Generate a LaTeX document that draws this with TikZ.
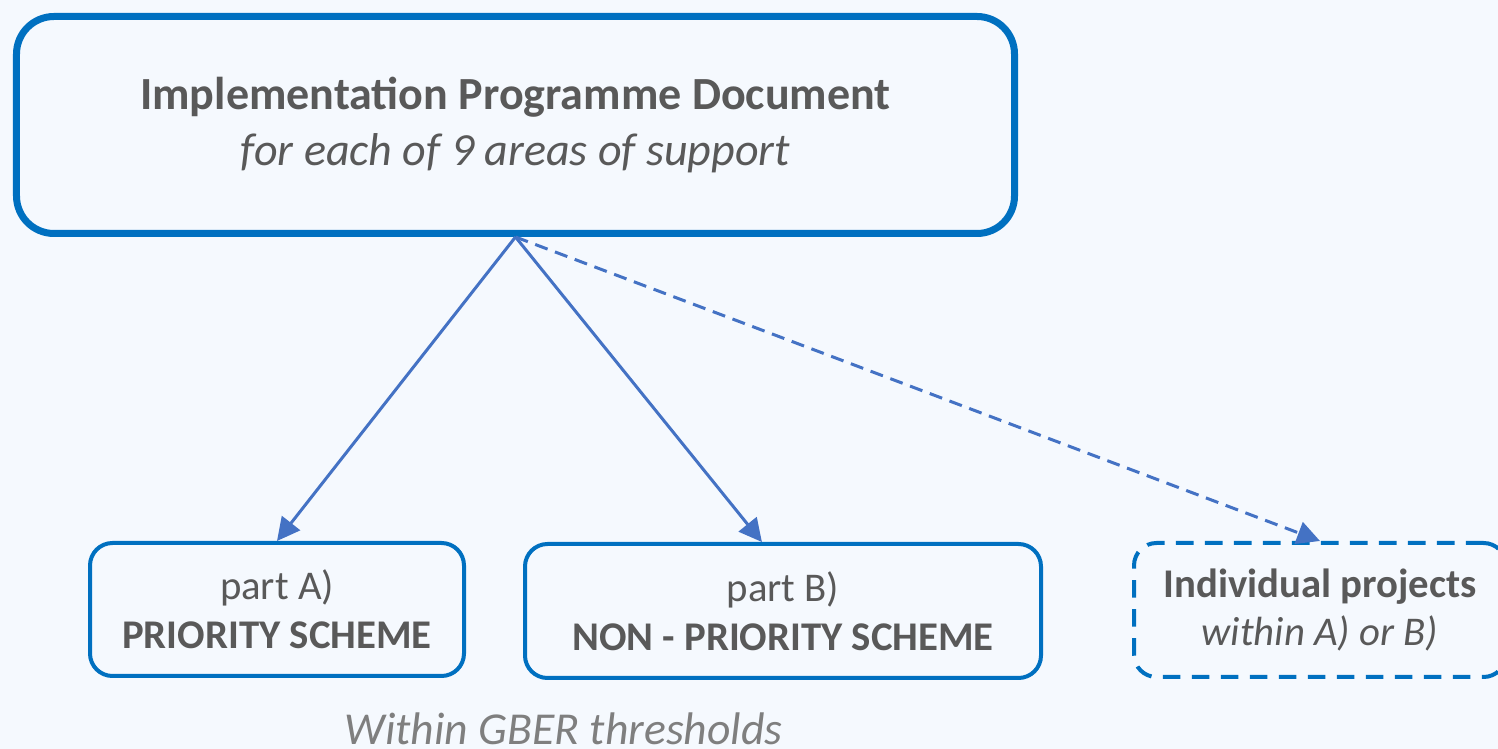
\documentclass[tikz,border=0pt]{standalone}
\usepackage{fontspec}
\setmainfont{Carlito}
\usetikzlibrary{arrows.meta}

\definecolor{bgblue}{HTML}{F5F9FE}
\definecolor{boxblue}{HTML}{0070C0}
\definecolor{arrowblue}{HTML}{4472C4}
\definecolor{textgrey}{HTML}{595959}
\definecolor{lightgrey}{HTML}{7F7F7F}

\begin{document}
\begin{tikzpicture}[
  box/.style={rectangle,rounded corners=0.45cm,draw=boxblue,line width=0.08cm,
    align=center,text=textgrey,inner sep=0pt,font=\fontsize{23.2}{27.8}\selectfont},
  link/.style={-{Triangle[length=13pt,width=13pt]},draw=arrowblue,line width=0.06cm}
]

%BACKGROUND
\fill[bgblue] (0,0) rectangle (29.96,14.98);
\useasboundingbox (0,0) rectangle (29.96,14.98);
%BACKGROUND

\node[box,rounded corners=0.75cm,line width=0.14cm,minimum width=19.96cm,minimum height=4.34cm,
  font=\fontsize{26.2}{31.5}\selectfont](v1) at (10.31,12.48)
  {\textbf{Implementation Programme Document}\\\textit{for each of 9 areas of support}};

\node[box,minimum width=7.48cm,minimum height=2.66cm](v2) at (5.54,2.79)
  {part A)\\\textbf{PRIORITY SCHEME}};
\node[box,minimum width=10.32cm,minimum height=2.68cm](v3) at (15.66,2.76)
  {part B)\\\textbf{NON - PRIORITY SCHEME}};
\node[box,dash pattern=on 10pt off 6.5pt,minimum width=7.44cm,minimum height=2.68cm](v4) at (26.4,2.78)
  {\textbf{Individual projects}\\\textit{within A) or B)}};

\node[anchor=base,inner sep=0pt,text=lightgrey,font=\fontsize{26}{30}\selectfont\itshape](v5) at (11.27,0.08)
  {Within GBER thresholds};

\draw[link] (v1.south) -- (v2.north);
\draw[link] (v1.south) -- (v3.107);
\draw[link,dash pattern=on 7.5pt off 4.5pt] (v1.south) -- (v4.north);

\end{tikzpicture}
\end{document}
